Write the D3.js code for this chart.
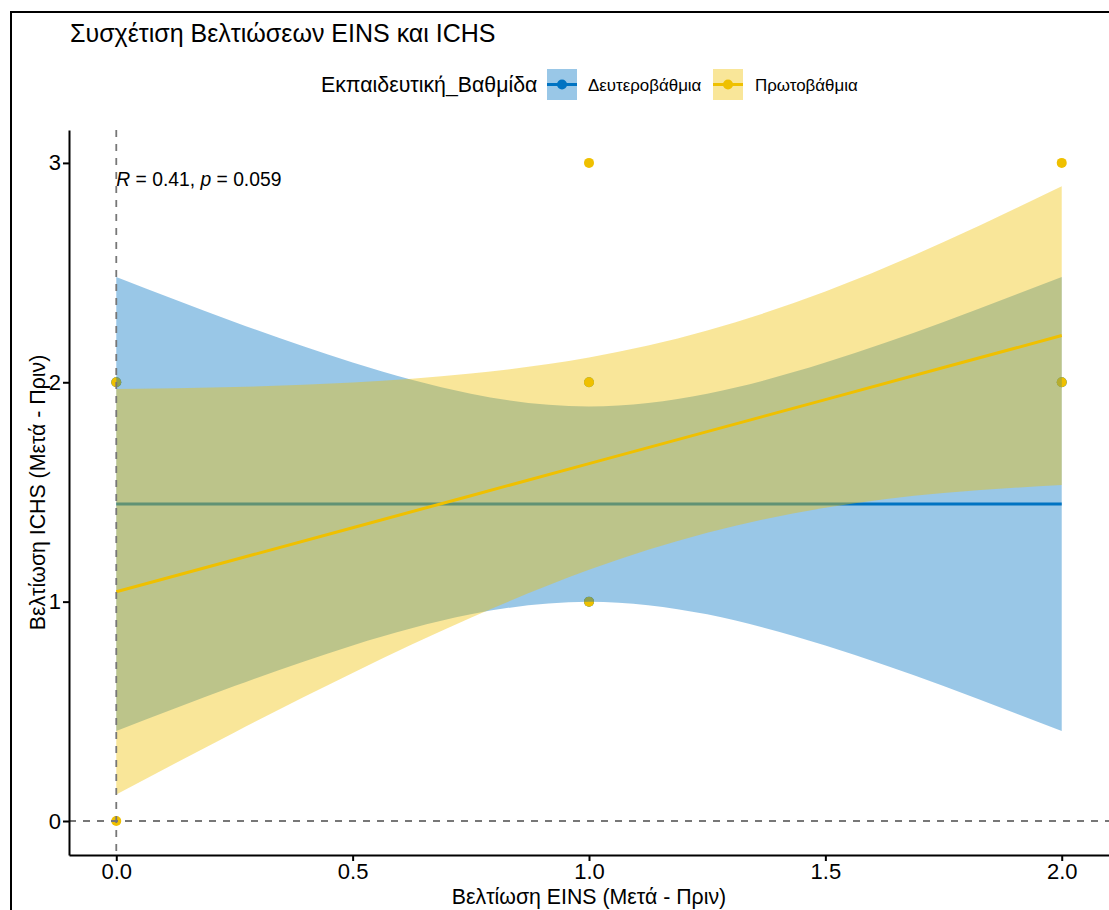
<!DOCTYPE html>
<html>
<head>
<meta charset="utf-8">
<script src="https://cdn.jsdelivr.net/npm/d3@7"></script>
<style>
  html, body { margin: 0; padding: 0; background: #ffffff; }
  svg { display: block; }
  text { font-family: "Liberation Sans", Arial, sans-serif; fill: #000; }
</style>
</head>
<body>
<svg id="chart" width="1109" height="910"></svg>
<script>
// ---------------- data ----------------
const titleText = "Συσχέτιση Βελτιώσεων EINS και ICHS";
const xTitle = "Βελτίωση EINS (Μετά - Πριν)";
const yTitle = "Βελτίωση ICHS (Μετά - Πριν)";
const legendTitle = "Εκπαιδευτική_Βαθμίδα";
const groups = ["Δευτεροβάθμια", "Πρωτοβάθμια"];
const groupColors = ["#0073C2", "#EFC000"];

const xTicks = [0, 0.5, 1, 1.5, 2];
const yTicks = [0, 1, 2, 3];

// observed points
const secX = [0, 1, 1, 2];
const secY = [2, 1, 2, 2];
const priX = [0, 0, 1, 1, 1, 2, 2];
const priY = [0, 2, 1, 2, 3, 2, 3];

// fitted lines and 95% bands
const bandX = [0, 0.25, 0.5, 0.75, 1, 1.25, 1.5, 1.75, 2];
const secFit  = [1.445, 1.445, 1.445, 1.445, 1.445, 1.445, 1.445, 1.445, 1.445];
const secLow  = [0.41, 0.615, 0.80, 0.942, 1.00, 0.942, 0.80, 0.615, 0.41];
const secHigh = [2.48, 2.275, 2.09, 1.948, 1.89, 1.948, 2.09, 2.275, 2.48];
const priFit  = [1.045, 1.191, 1.337, 1.483, 1.629, 1.775, 1.921, 2.067, 2.213];
const priLow  = [0.121, 0.404, 0.675, 0.926, 1.145, 1.314, 1.428, 1.495, 1.532];
const priHigh = [1.969, 1.978, 1.999, 2.040, 2.113, 2.236, 2.414, 2.639, 2.894];

const annotation = { R: "0.41", p: "0.059" };

// ---------------- layout ----------------
const svg = d3.select("#chart");
const panel = { left: 69, right: 1109, top: 130, bottom: 855 };

const x = d3.scaleLinear().domain([-0.1, 2.1]).range([panel.left, panel.right]);
const y = d3.scaleLinear().domain([-0.155, 3.15]).range([panel.bottom, panel.top]);

// outer frame
svg.append("rect")
  .attr("x", 11).attr("y", 12).attr("width", 1300).attr("height", 1100)
  .attr("fill", "none").attr("stroke", "#000").attr("stroke-width", 2);

// title
svg.append("text")
  .attr("x", 70).attr("y", 42)
  .style("font-size", "25px")
  .text(titleText);

// clip
svg.append("defs").append("clipPath").attr("id", "clip")
  .append("rect")
  .attr("x", panel.left).attr("y", panel.top)
  .attr("width", panel.right - panel.left).attr("height", panel.bottom - panel.top);

const plot = svg.append("g").attr("clip-path", "url(#clip)");

// points
function drawPoints(xs, ys, color) {
  plot.append("g").selectAll("circle")
    .data(xs.map((v, i) => [v, ys[i]]))
    .join("circle")
    .attr("cx", d => x(d[0]))
    .attr("cy", d => y(d[1]))
    .attr("r", 5)
    .attr("fill", color);
}
drawPoints(secX, secY, groupColors[0]);
drawPoints(priX, priY, groupColors[1]);

// smooths
function drawSmooth(fit, low, high, color) {
  const rows = bandX.map((v, i) => ({ x: v, f: fit[i], lo: low[i], hi: high[i] }));
  const area = d3.area()
    .x(d => x(d.x)).y0(d => y(d.lo)).y1(d => y(d.hi))
    .curve(d3.curveNatural);
  plot.append("path").datum(rows)
    .attr("d", area)
    .attr("fill", color).attr("fill-opacity", 0.4);
  const line = d3.line().x(d => x(d.x)).y(d => y(d.f));
  plot.append("path").datum(rows)
    .attr("d", line)
    .attr("fill", "none").attr("stroke", color).attr("stroke-width", 3);
}
drawSmooth(secFit, secLow, secHigh, groupColors[0]);
drawSmooth(priFit, priLow, priHigh, groupColors[1]);

// reference lines
plot.append("line")
  .attr("x1", x(0)).attr("x2", x(0))
  .attr("y1", panel.top).attr("y2", panel.bottom)
  .attr("stroke", "#777").attr("stroke-width", 1.8)
  .attr("stroke-dasharray", "7,7");
plot.append("line")
  .attr("x1", panel.left).attr("x2", panel.right)
  .attr("y1", y(0)).attr("y2", y(0))
  .attr("stroke", "#777").attr("stroke-width", 1.8)
  .attr("stroke-dasharray", "7,7");

// annotation
const ann = svg.append("text")
  .attr("x", x(0)).attr("y", 186)
  .style("font-size", "19.3px");
ann.append("tspan").style("font-style", "italic").text("R");
ann.append("tspan").text(" = " + annotation.R + ", ");
ann.append("tspan").style("font-style", "italic").text("p");
ann.append("tspan").text(" = " + annotation.p);

// axes
const xAxis = svg.append("g")
  .attr("transform", `translate(0,${panel.bottom})`)
  .call(d3.axisBottom(x).tickValues(xTicks).tickFormat(d3.format(".1f")).tickSize(6).tickSizeOuter(0));
const yAxis = svg.append("g")
  .attr("transform", `translate(${panel.left},0)`)
  .call(d3.axisLeft(y).tickValues(yTicks).tickFormat(d3.format("d")).tickSize(6).tickSizeOuter(0));

[xAxis, yAxis].forEach(g => {
  g.select(".domain").attr("stroke", "#000").attr("stroke-width", 2);
  g.selectAll(".tick line").attr("stroke", "#000").attr("stroke-width", 2);
  g.selectAll(".tick text")
    .style("font-family", "'Liberation Sans', Arial, sans-serif")
    .style("font-size", "22px").attr("fill", "#000");
});
xAxis.selectAll(".tick text").attr("dy", "0.71em").attr("y", 8);
yAxis.selectAll(".tick text").attr("x", -8);

// axis titles
svg.append("text")
  .attr("x", (panel.left + panel.right) / 2).attr("y", 904)
  .attr("text-anchor", "middle")
  .style("font-size", "21.3px")
  .text(xTitle);
svg.append("text")
  .attr("transform", `translate(45,${(panel.top + panel.bottom) / 2}) rotate(-90)`)
  .attr("text-anchor", "middle")
  .style("font-size", "21.3px")
  .text(yTitle);

// legend
const legend = svg.append("g");
legend.append("text")
  .attr("x", 321).attr("y", 92)
  .style("font-size", "21.3px")
  .text(legendTitle);

const keyX = [547, 713];
const labelX = [588, 755];
groups.forEach((gname, i) => {
  const k = legend.append("g").attr("transform", `translate(${keyX[i]},69)`);
  k.append("rect").attr("width", 30).attr("height", 31)
    .attr("fill", groupColors[i]).attr("fill-opacity", 0.4);
  k.append("line").attr("x1", 0).attr("x2", 30).attr("y1", 15.5).attr("y2", 15.5)
    .attr("stroke", groupColors[i]).attr("stroke-width", 3);
  k.append("circle").attr("cx", 15).attr("cy", 15.5).attr("r", 5).attr("fill", groupColors[i]);
  legend.append("text")
    .attr("x", labelX[i]).attr("y", 90.5)
    .style("font-size", "16.9px")
    .text(gname);
});
</script>
</body>
</html>
